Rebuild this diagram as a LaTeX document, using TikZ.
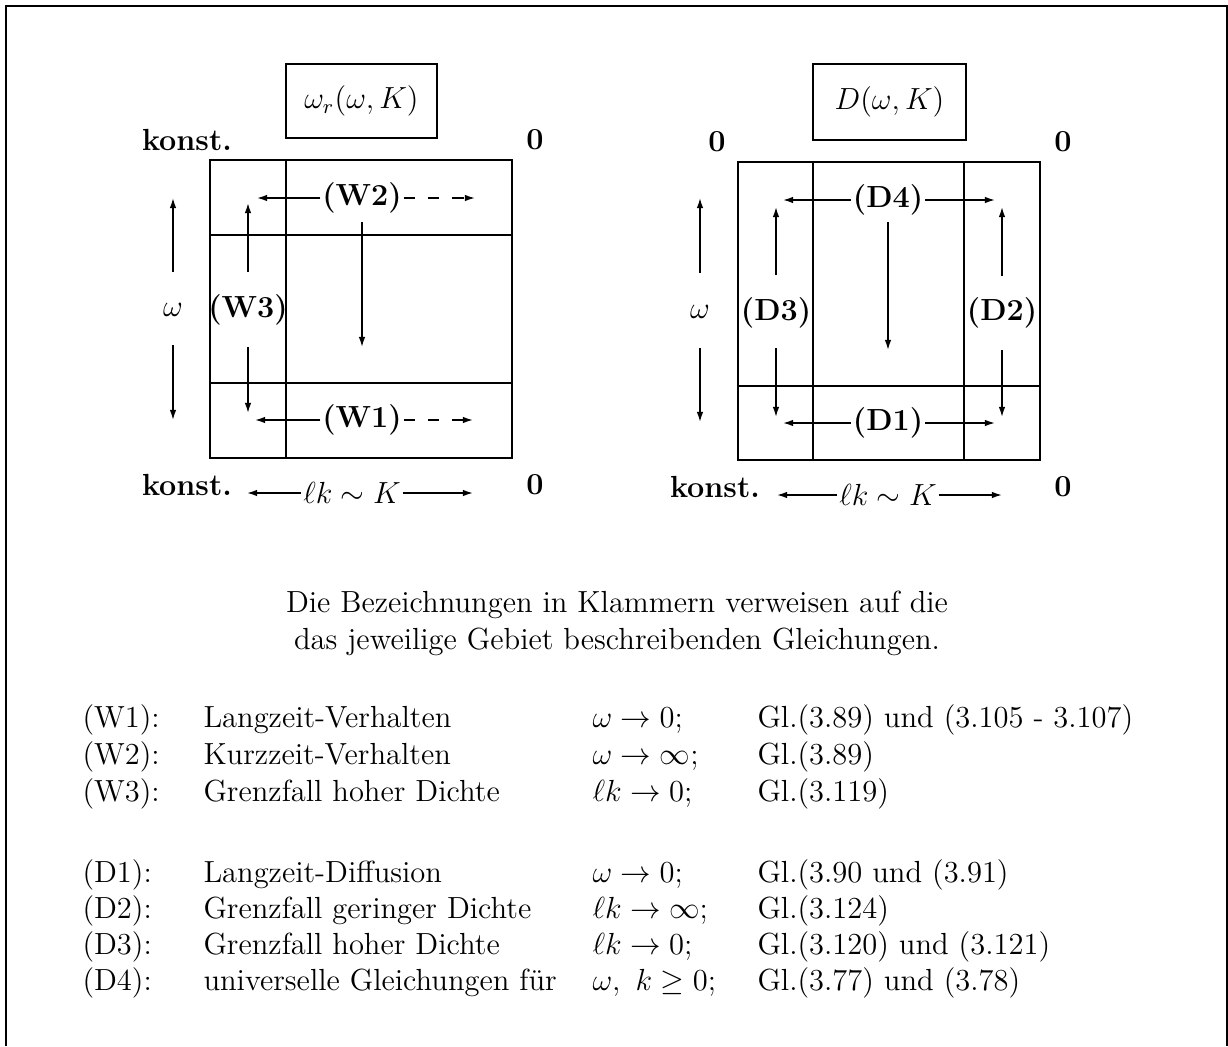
\documentclass[tikz,border=0pt]{standalone}
\usetikzlibrary{arrows.meta}
\begin{document}
\begin{tikzpicture}[x=0.393pt,y=-0.393pt,
  every node/.style={font=\fontsize{12}{14.5}\selectfont},
  frame/.style={line width=0.8pt},
  grid/.style={line width=0.8pt},
  arr/.style={line width=0.6pt,-{Latex[length=4pt,width=2.6pt]}},
  darr/.style={arr,dash pattern=on 4.5pt off 5pt},
  lbl/.style={font=\fontsize{12}{14.5}\selectfont\bfseries,inner sep=0.6pt},
  corner/.style={font=\fontsize{12}{14.5}\selectfont\bfseries,inner sep=0pt},
  tcell/.style={anchor=base west,inner sep=0pt}
]
\useasboundingbox (0,0) rectangle (1228,1046);
% outer frame
\draw[frame] (6,1046) -- (6,6) -- (1227,6) -- (1227,1046);

% ================= left diagram =================
\node[draw,line width=0.8pt,minimum width=151*0.393pt,minimum height=74*0.393pt] (tA) at (361.5,101) {$\omega_r(\omega,K)$};
\node[corner] (kA1) at (187,140) {konst.};
\node[corner] (zA1) at (535,140) {0};
\node[corner] (kA2) at (187,485) {konst.};
\node[corner] (zA2) at (535,485) {0};
\draw[grid] (210,160) rectangle (512,458);
\draw[grid] (286,160) -- (286,458);
\draw[grid] (210,235) -- (512,235);
\draw[grid] (210,383) -- (512,383);

\node (omA) at (173,310) {$\omega$};
\coordinate (omAu1) at (173,272); \coordinate (omAu2) at (173,198);
\coordinate (omAd1) at (173,345); \coordinate (omAd2) at (173,420);
\draw[arr] (omAu1) -- (omAu2);
\draw[arr] (omAd1) -- (omAd2);

\node[lbl] (W2) at (362,198) {(W2)};
\coordinate (W2l) at (257,198); \coordinate (W2r) at (475,198);
\draw[arr] (W2.west) -- (W2l);
\draw[darr] (W2.east) -- (W2r);
\coordinate (cA1) at (362,222); \coordinate (cA2) at (362,347);
\draw[arr] (cA1) -- (cA2);

\node[lbl] (W3) at (248,310) {(W3)};
\coordinate (W3u1) at (248,272); \coordinate (W3u2) at (248,203);
\coordinate (W3d1) at (248,347); \coordinate (W3d2) at (248,413);
\draw[arr] (W3u1) -- (W3u2);
\draw[arr] (W3d1) -- (W3d2);

\node[lbl] (W1) at (362,420) {(W1)};
\coordinate (W1l) at (255,420); \coordinate (W1r) at (473,420);
\draw[arr] (W1.west) -- (W1l);
\draw[darr] (W1.east) -- (W1r);

\node[inner sep=0.5pt] (lkA) at (352,493) {$\ell k\sim K$};
\coordinate (lkAl) at (247,493); \coordinate (lkAr) at (473,493);
\draw[arr] (lkA.west) -- (lkAl);
\draw[arr] (lkA.east) -- (lkAr);

% ================= right diagram =================
\node[draw,line width=0.8pt,minimum width=153*0.393pt,minimum height=76*0.393pt] (tB) at (889.5,102) {$D(\omega,K)$};
\node[corner] (zB1) at (717,142) {0};
\node[corner] (zB2) at (1063,142) {0};
\node[corner] (kB2) at (715,487) {konst.};
\node[corner] (zB3) at (1063,487) {0};
\draw[grid] (738,162) rectangle (1040,460);
\draw[grid] (813,162) -- (813,460);
\draw[grid] (964,162) -- (964,460);
\draw[grid] (738,386) -- (1040,386);

\node (omB) at (700,312) {$\omega$};
\coordinate (omBu1) at (700,273); \coordinate (omBu2) at (700,198);
\coordinate (omBd1) at (700,348); \coordinate (omBd2) at (700,422);
\draw[arr] (omBu1) -- (omBu2);
\draw[arr] (omBd1) -- (omBd2);

\node[lbl] (D4) at (888,200) {(D4)};
\coordinate (D4l) at (783,200); \coordinate (D4r) at (995,200);
\draw[arr] (D4.west) -- (D4l);
\draw[arr] (D4.east) -- (D4r);
\coordinate (cB1) at (888,222); \coordinate (cB2) at (888,350);
\draw[arr] (cB1) -- (cB2);

\node[lbl] (D3) at (776,313) {(D3)};
\coordinate (D3u1) at (776,275); \coordinate (D3u2) at (776,207);
\coordinate (D3d1) at (776,348); \coordinate (D3d2) at (776,417);
\draw[arr] (D3u1) -- (D3u2);
\draw[arr] (D3d1) -- (D3d2);

\node[lbl] (D2) at (1002,313) {(D2)};
\coordinate (D2u1) at (1002,276); \coordinate (D2u2) at (1002,207);
\coordinate (D2d1) at (1002,350); \coordinate (D2d2) at (1002,417);
\draw[arr] (D2u1) -- (D2u2);
\draw[arr] (D2d1) -- (D2d2);

\node[lbl] (D1) at (888,423) {(D1)};
\coordinate (D1l) at (783,423); \coordinate (D1r) at (995,423);
\draw[arr] (D1.west) -- (D1l);
\draw[arr] (D1.east) -- (D1r);

\node[inner sep=0.5pt] (lkB) at (888,495) {$\ell k\sim K$};
\coordinate (lkBl) at (777,495); \coordinate (lkBr) at (1002,495);
\draw[arr] (lkB.west) -- (lkBl);
\draw[arr] (lkB.east) -- (lkBr);

% ================= caption text =================
\node[align=center,inner sep=0pt] (cap) at (617,623)
  {Die Bezeichnungen in Klammern verweisen auf die\\
   das jeweilige Gebiet beschreibenden Gleichungen.};

% ================= table =================
\node[tcell] (a1) at (82,727) {(W1):};
\node[tcell] (b1) at (203,727) {Langzeit-Verhalten};
\node[tcell] (c1) at (592,727) {$\omega\rightarrow 0$;};
\node[tcell] (d1) at (757,727) {Gl.(3.89) und (3.105 - 3.107)};

\node[tcell] (a2) at (82,764) {(W2):};
\node[tcell] (b2) at (203,764) {Kurzzeit-Verhalten};
\node[tcell] (c2) at (592,764) {$\omega\rightarrow \infty$;};
\node[tcell] (d2) at (757,764) {Gl.(3.89)};

\node[tcell] (a3) at (82,801) {(W3):};
\node[tcell] (b3) at (203,801) {Grenzfall hoher Dichte};
\node[tcell] (c3) at (592,801) {$\ell k\rightarrow 0$;};
\node[tcell] (d3) at (757,801) {Gl.(3.119)};

\node[tcell] (a4) at (82,882) {(D1):};
\node[tcell] (b4) at (203,882) {Langzeit-Diffusion};
\node[tcell] (c4) at (592,882) {$\omega\rightarrow 0$;};
\node[tcell] (d4) at (757,882) {Gl.(3.90 und (3.91)};

\node[tcell] (a5) at (82,918) {(D2):};
\node[tcell] (b5) at (203,918) {Grenzfall geringer Dichte};
\node[tcell] (c5) at (592,918) {$\ell k\rightarrow \infty$;};
\node[tcell] (d5) at (757,918) {Gl.(3.124)};

\node[tcell] (a6) at (82,954) {(D3):};
\node[tcell] (b6) at (203,954) {Grenzfall hoher Dichte};
\node[tcell] (c6) at (592,954) {$\ell k\rightarrow 0$;};
\node[tcell] (d6) at (757,954) {Gl.(3.120) und (3.121)};

\node[tcell] (a7) at (82,990) {(D4):};
\node[tcell] (b7) at (203,990) {universelle Gleichungen für};
\node[tcell] (c7) at (592,990) {$\omega,\ k\geq 0$;};
\node[tcell] (d7) at (757,990) {Gl.(3.77) und (3.78)};
\end{tikzpicture}
\end{document}
